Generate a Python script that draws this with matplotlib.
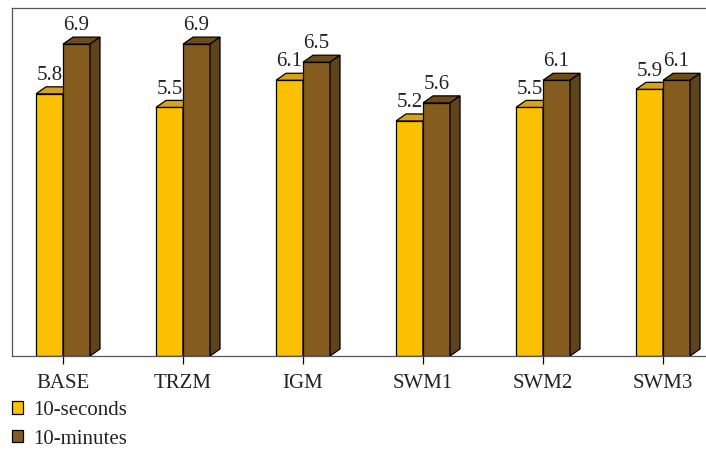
import numpy as np
import matplotlib.pyplot as plt
from matplotlib.patches import Polygon, Patch

plt.rcParams['font.family'] = ['Liberation Serif', 'DejaVu Serif']

# dati
categorie = ['BASE', 'TRZM', 'IGM', 'SWM1', 'SWM2', 'SWM3']
sec10 = [5.8, 5.5, 6.1, 5.2, 5.5, 5.9]
min10 = [6.9, 6.9, 6.5, 5.6, 6.1, 6.1]

# colori (fronte, sopra, lato)
giallo = ('#fbc000', '#d6a21c', '#b88b12')
marrone = ('#845c1f', '#6e4c1a', '#5e431b')

fig = plt.figure(figsize=(7.06, 4.51), dpi=100)
ax = fig.add_axes([12/706, 95/451, 694/706, 348.5/451])

x = np.arange(len(categorie))
w = 0.225
dx = 10/120       # profondita' in x (dati)
dy = 7/45.2       # profondita' in y (dati)
fs = 15


def barre3d(pos, vals, col, z):
    ax.bar(pos, vals, w, align='edge', color=col[0], edgecolor='black',
           linewidth=0.9, zorder=z)
    for xi, h in zip(pos, vals):
        top = [(xi, h), (xi + dx, h + dy), (xi + w + dx, h + dy), (xi + w, h)]
        side = [(xi + w, 0), (xi + w + dx, dy), (xi + w + dx, h + dy), (xi + w, h)]
        ax.add_patch(Polygon(top, closed=True, facecolor=col[1],
                             edgecolor='black', linewidth=0.9, zorder=z))
        ax.add_patch(Polygon(side, closed=True, facecolor=col[2],
                             edgecolor='black', linewidth=0.9, zorder=z))


barre3d(x - w, sec10, giallo, 2)
barre3d(x, min10, marrone, 3)

# etichette valori
for xi, a, b in zip(x, sec10, min10):
    ax.text(xi - w/2, a + dy + 0.04, '%.1f' % a, ha='center', va='bottom',
            fontsize=fs, color='#222222')
    ax.text(xi + w/2, b + dy + 0.04, '%.1f' % b, ha='center', va='bottom',
            fontsize=fs, color='#222222')

ax.set_xlim(-0.425, 5.358)
ax.set_ylim(0, 7.71)
ax.set_xticks(x)
ax.set_xticklabels(categorie, fontsize=fs, color='#222222')
ax.set_yticks([])
ax.tick_params(axis='x', length=6, width=0.9, pad=7)
ax.spines['right'].set_visible(False)
for s in ['left', 'top', 'bottom']:
    ax.spines[s].set_color('#555555')
    ax.spines[s].set_linewidth(0.9)

handles = [Patch(facecolor=giallo[0], edgecolor='black', linewidth=0.9),
           Patch(facecolor=marrone[0], edgecolor='black', linewidth=0.9)]
fig.legend(handles, ['10-seconds', '10-minutes'], loc='upper left',
           bbox_to_anchor=(12/706, 50/451), frameon=False, fontsize=fs,
           handlelength=0.53, handleheight=0.53, handletextpad=0.5,
           labelspacing=0.46, borderaxespad=0, borderpad=0)
for t in fig.legends[0].get_texts():
    t.set_color('#222222')

fig.savefig('out.png', dpi=100)
